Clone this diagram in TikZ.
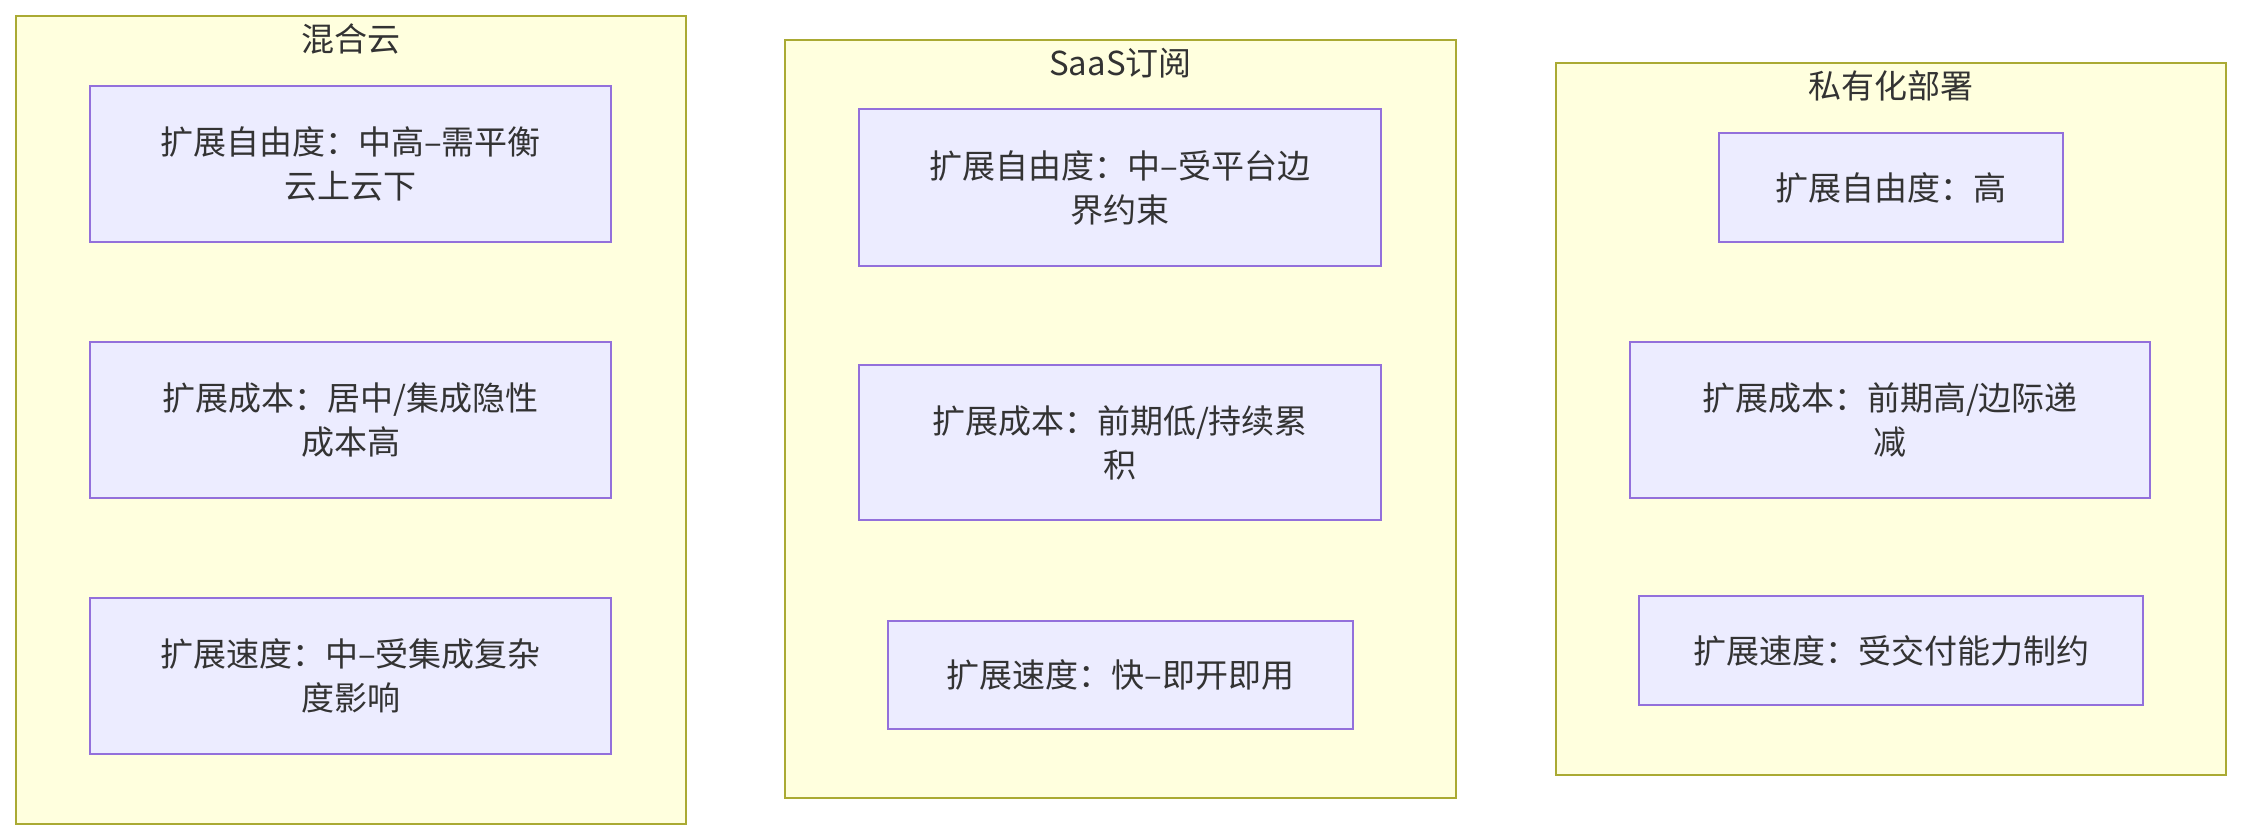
\documentclass[tikz,border=0pt]{standalone}
\usepackage{fontspec}
\setmainfont{Noto Sans CJK SC}
\usetikzlibrary{positioning}
\definecolor{clusterfill}{HTML}{FFFFDE}
\definecolor{clusterline}{HTML}{AAAA33}
\definecolor{boxfill}{HTML}{ECECFF}
\definecolor{boxline}{HTML}{9370DB}
\definecolor{txt}{HTML}{333333}
\begin{document}
\begin{tikzpicture}[x=0.5pt, y=-0.5pt,
		cluster/.style={draw=clusterline, fill=clusterfill, line width=1pt, inner sep=0pt},
		item/.style={draw=boxline, fill=boxfill, line width=1pt, text=txt, align=center, inner sep=0pt,
			font=\fontsize{16.5}{22}\selectfont},
		title/.style={text=txt, inner sep=0pt, font=\fontsize{16.5}{22}\selectfont}]
	
	\useasboundingbox (0,0) rectangle (2242,840);
	
	% --- 1. 三个分组 ---
	\node[cluster, minimum width=335pt, minimum height=404pt] (hybrid) at (351,420) {};
	\node[cluster, minimum width=335.5pt, minimum height=379pt] (saas) at (1120.5,419) {};
	\node[cluster, minimum width=335pt, minimum height=356pt] (private) at (1891,419) {};
	
	\node[title] (hybridT) at ([yshift=-12pt]hybrid.north) {混合云};
	\node[title] (saasT) at ([yshift=-12pt]saas.north) {SaaS订阅};
	\node[title] (privateT) at ([yshift=-12pt]private.north) {私有化部署};
	
	% --- 2. 混合云 ---
	\node[item, minimum width=260.5pt, minimum height=78pt] (hFree) at (350.5,164) {扩展自由度：中高–需平衡\\云上云下};
	\node[item, minimum width=260.5pt, minimum height=78pt] (hCost) at (350.5,420) {扩展成本：居中/集成隐性\\成本高};
	\node[item, minimum width=260.5pt, minimum height=78pt] (hSpeed) at (350.5,676) {扩展速度：中–受集成复杂\\度影响};
	
	% --- 3. SaaS订阅 ---
	\node[item, minimum width=261pt, minimum height=78.5pt] (sFree) at (1120,187.5) {扩展自由度：中–受平台边\\界约束};
	\node[item, minimum width=261pt, minimum height=77.5pt] (sCost) at (1120,442.5) {扩展成本：前期低/持续累\\积};
	\node[item, minimum width=232.5pt, minimum height=54pt] (sSpeed) at (1120.5,675) {扩展速度：快–即开即用};
	
	% --- 4. 私有化部署 ---
	\node[item, minimum width=172pt, minimum height=54.5pt] (pFree) at (1891,187.5) {扩展自由度：高};
	\node[item, minimum width=260pt, minimum height=78pt] (pCost) at (1890,420) {扩展成本：前期高/边际递\\减};
	\node[item, minimum width=252pt, minimum height=54.5pt] (pSpeed) at (1891,650.5) {扩展速度：受交付能力制约};
	
\end{tikzpicture}
\end{document}
